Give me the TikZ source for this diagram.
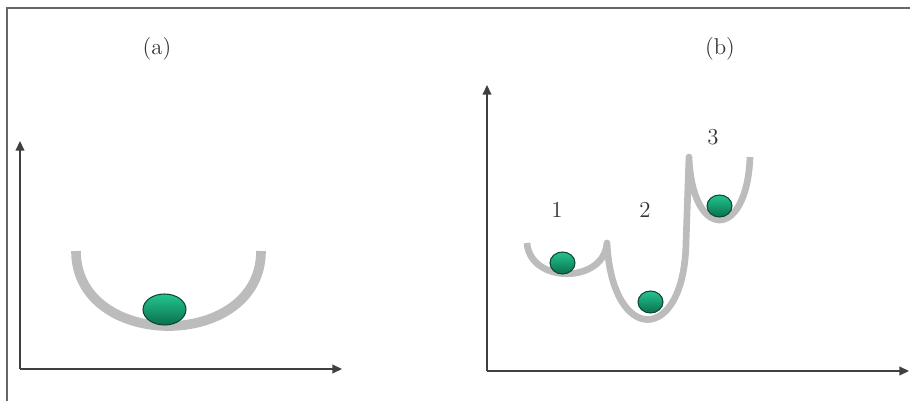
\documentclass[tikz,border=0pt]{standalone}
\usetikzlibrary{arrows.meta,shapes.geometric}
\definecolor{wellgray}{RGB}{188,188,188}
\definecolor{balltop}{RGB}{36,196,144}
\definecolor{ballbot}{RGB}{10,112,78}
\definecolor{ballrim}{RGB}{12,70,50}
\begin{document}
\begin{tikzpicture}
  [x=0.02cm,y=-0.02cm,
   axis/.style={draw=black!75,line width=0.8pt,-{Triangle[width=5pt,length=5.5pt]}},
   well/.style={draw=wellgray,line width=5.5pt},
   thinwell/.style={draw=wellgray,line width=3.8pt,line join=round},
   ball/.style={ellipse,draw=ballrim,line width=0.6pt,top color=balltop,bottom color=ballbot,inner sep=0pt},
   lbl/.style={font=\fontsize{13}{15}\selectfont,text=black!80}]
  \useasboundingbox (0,0) rectangle (910,401);

  % frame
  \draw[black!60,line width=1.1pt] (7,401) -- (7,8) -- (910,8);

  % axes
  \coordinate (oa) at (20,369);
  \coordinate (ya) at (20,141);
  \coordinate (xa) at (342,369);
  \coordinate (ob) at (487,371);
  \coordinate (yb) at (487,85);
  \coordinate (xb) at (909,371);
  \foreach \from/\to in {oa/ya, oa/xa, ob/yb, ob/xb}
    \draw[axis] (\from) -- (\to);

  % (a) one well
  \draw[well] (76,251) .. controls (76,351) and (261,351) .. (261,251);
  \node[ball,minimum width=0.86cm,minimum height=0.62cm] (b0) at (164.5,309.5) {};

  % (b) three wells
  \draw[thinwell] (527,243) .. controls (530,284) and (604,284) .. (607,243)
    .. controls (612,345) and (684,345) .. (686,243) -- (689,157)
    .. controls (692,241) and (747,241) .. (750,157);
  \node[ball,minimum width=0.5cm,minimum height=0.44cm] (b1) at (562.5,263) {};
  \node[ball,minimum width=0.5cm,minimum height=0.44cm] (b2) at (650.5,302) {};
  \node[ball,minimum width=0.5cm,minimum height=0.44cm] (b3) at (719.5,206) {};

  % labels
  \node[lbl] (la) at (157,49) {(a)};
  \node[lbl] (lb) at (720,49) {(b)};
  \node[lbl] (l1) at (557,210) {1};
  \node[lbl] (l2) at (645,210) {2};
  \node[lbl] (l3) at (713,137) {3};
\end{tikzpicture}
\end{document}
